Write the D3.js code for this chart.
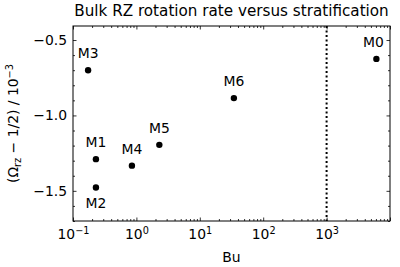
<!DOCTYPE html>
<html>
<head>
<meta charset="utf-8">
<script src="https://cdn.jsdelivr.net/npm/d3@7"></script>
<style>
  body { margin: 0; background: #fff; }
  svg { font-family: "DejaVu Sans", sans-serif; }
</style>
</head>
<body>
<div id="chart"></div>
<script>
// runs, Burger number and bulk rotation rate offset
const runs = ["M0", "M1", "M2", "M3", "M4", "M5", "M6"];
const bu = [6100, 0.23, 0.23, 0.173, 0.85, 2.3, 34.5];
const omega = [-0.625, -1.29, -1.478, -0.70, -1.333, -1.195, -0.885];
const belowLabels = ["M2"];
const buCrit = 1000;

const xMajors = [0.1, 1, 10, 100, 1000, 10000];
const xExps = ["\u22121", "0", "1", "2", "3", "4"];
const yMajors = [-0.5, -1.0, -1.5];

const W = 400, H = 267;
const plot = {left: 73, right: 390, top: 26, bottom: 221};
const fs = 13.9;

let svg = d3.select("#chart").append("svg")
    .attr("width", W)
    .attr("height", H);

let x = d3.scaleLog()
    .domain([0.1, 10000])
    .range([plot.left, plot.right]);

let y = d3.scaleLinear()
    .domain([-1.70, -0.407])
    .range([plot.bottom, plot.top]);

// minor ticks for log axis: 2..9 of every decade
let xMinors = [];
for (let e = -1; e < 4; e++) {
    for (let k = 2; k <= 9; k++) xMinors.push(k * Math.pow(10, e));
}
let yMinors = d3.range(-1.7, -0.4, 0.1).map(v => +v.toFixed(1))
    .filter(v => !yMajors.includes(v));

let styleAxis = (g) => {
    g.select(".domain").remove();
    g.selectAll("line").attr("stroke", "#000").attr("stroke-width", 0.8);
    g.selectAll("text").attr("font-size", fs).attr("fill", "#000")
        .attr("font-family", "DejaVu Sans, sans-serif");
};

/* bottom axis */
let xAxis = svg.append("g")
    .attr("transform", `translate(0, ${plot.bottom})`)
    .call(d3.axisBottom(x).tickValues(xMajors).tickSizeInner(-3.5).tickSizeOuter(0)
        .tickPadding(8).tickFormat(() => ""));
styleAxis(xAxis);
xAxis.selectAll(".tick text").each(function(d, i) {
    let t = d3.select(this);
    if (i === xMajors.length - 1) { t.remove(); return; }
    t.append("tspan").text("10");
    t.append("tspan").attr("font-size", fs * 0.7).attr("dy", "-0.55em").text(xExps[i]);
});

svg.append("g")
    .attr("transform", `translate(0, ${plot.bottom})`)
    .call(d3.axisBottom(x).tickValues(xMinors).tickSizeInner(-2).tickSizeOuter(0).tickFormat(() => ""))
    .call(styleAxis);

/* top axis */
svg.append("g")
    .attr("transform", `translate(0, ${plot.top})`)
    .call(d3.axisTop(x).tickValues(xMajors).tickSizeInner(-3.5).tickSizeOuter(0).tickFormat(() => ""))
    .call(styleAxis);
svg.append("g")
    .attr("transform", `translate(0, ${plot.top})`)
    .call(d3.axisTop(x).tickValues(xMinors).tickSizeInner(-2).tickSizeOuter(0).tickFormat(() => ""))
    .call(styleAxis);

/* left axis */
svg.append("g")
    .attr("transform", `translate(${plot.left}, 0)`)
    .call(d3.axisLeft(y).tickValues(yMajors).tickSizeInner(-3.5).tickSizeOuter(0)
        .tickPadding(6).tickFormat(d => d3.format(".1f")(d).replace("-", "\u2212")))
    .call(styleAxis);
svg.append("g")
    .attr("transform", `translate(${plot.left}, 0)`)
    .call(d3.axisLeft(y).tickValues(yMinors).tickSizeInner(-2).tickSizeOuter(0).tickFormat(() => ""))
    .call(styleAxis);

/* right axis */
svg.append("g")
    .attr("transform", `translate(${plot.right}, 0)`)
    .call(d3.axisRight(y).tickValues(yMajors).tickSizeInner(-3.5).tickSizeOuter(0).tickFormat(() => ""))
    .call(styleAxis);
svg.append("g")
    .attr("transform", `translate(${plot.right}, 0)`)
    .call(d3.axisRight(y).tickValues(yMinors).tickSizeInner(-2).tickSizeOuter(0).tickFormat(() => ""))
    .call(styleAxis);

/* frame */
svg.append("rect")
    .attr("x", plot.left)
    .attr("y", plot.top)
    .attr("width", plot.right - plot.left)
    .attr("height", plot.bottom - plot.top)
    .attr("fill", "none")
    .attr("stroke", "#000")
    .attr("stroke-width", 1);

/* critical Bu line */
svg.append("line")
    .attr("x1", x(buCrit)).attr("x2", x(buCrit))
    .attr("y1", plot.top).attr("y2", plot.bottom)
    .attr("stroke", "#000")
    .attr("stroke-width", 2)
    .attr("stroke-dasharray", "2,2.5");

/* points */
let pts = runs.map((r, i) => ({name: r, bu: bu[i], om: omega[i]}));

svg.append("g")
    .selectAll("circle")
    .data(pts)
    .join("circle")
    .attr("cx", d => x(d.bu))
    .attr("cy", d => y(d.om))
    .attr("r", 3.2)
    .attr("fill", "#000");

svg.append("g")
    .selectAll("text")
    .data(pts)
    .join("text")
    .attr("x", d => x(d.bu) - (d.name === "M0" ? 3 : 0))
    .attr("y", d => y(d.om) + (belowLabels.includes(d.name) ? 20 : -12))
    .attr("text-anchor", "middle")
    .attr("font-size", fs)
    .text(d => d.name);

/* title */
svg.append("text")
    .attr("x", (plot.left + plot.right) / 2)
    .attr("y", 16)
    .attr("text-anchor", "middle")
    .attr("font-size", 15.2)
    .text("Bulk RZ rotation rate versus stratification");

/* x label */
svg.append("text")
    .attr("x", (plot.left + plot.right) / 2)
    .attr("y", 262)
    .attr("text-anchor", "middle")
    .attr("font-size", fs)
    .text("Bu");

/* y label */
let yl = svg.append("text")
    .attr("transform", `translate(18, ${(plot.top + plot.bottom) / 2}) rotate(-90)`)
    .attr("text-anchor", "middle")
    .attr("font-size", fs);
yl.append("tspan").text("(\u03A9");
yl.append("tspan").attr("font-size", fs * 0.7).attr("dy", "0.3em").text("rz");
yl.append("tspan").attr("dy", "-0.21em").text(" \u2212 1/2) / 10");
yl.append("tspan").attr("font-size", fs * 0.7).attr("dy", "-0.55em").text("\u22123");
</script>
</body>
</html>
